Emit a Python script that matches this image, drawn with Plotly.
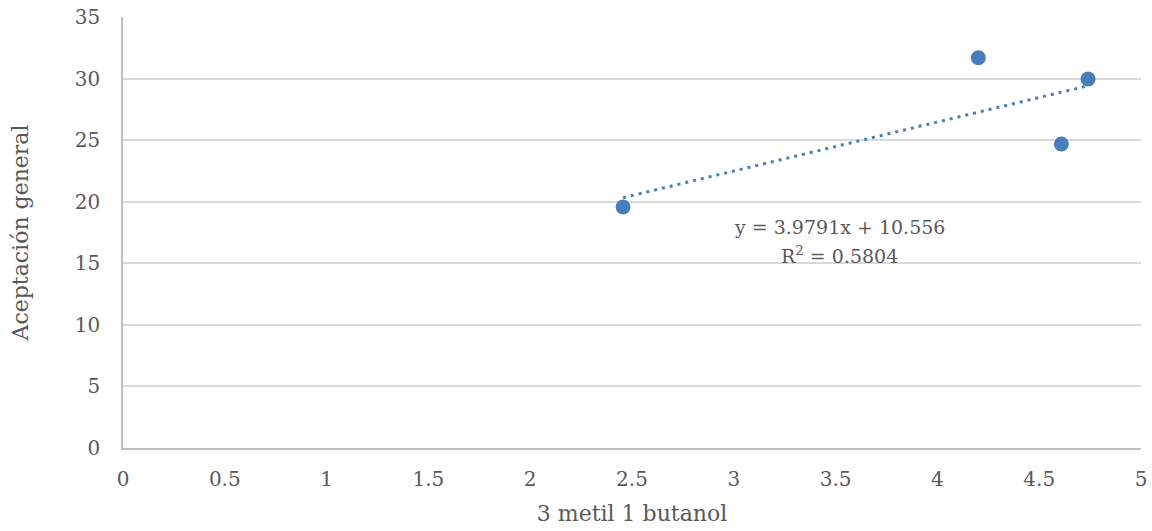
import plotly.graph_objects as go

x_vals = [2.456, 4.201, 4.609, 4.740]
y_vals = [19.57, 31.69, 24.69, 29.97]
slope = 3.9791
intercept = 10.556
r2 = 0.5804

x_ticks = [0, 0.5, 1, 1.5, 2, 2.5, 3, 3.5, 4, 4.5, 5]
x_tick_labels = ["0", "0.5", "1", "1.5", "2", "2.5", "3", "3.5", "4", "4.5", "5"]
y_ticks = [0, 5, 10, 15, 20, 25, 30, 35]

FONT = "DejaVu Serif"
TXT = "#595959"
COL = "#4A7EBB"

tx = [min(x_vals), max(x_vals)]
ty = [slope * v + intercept for v in tx]

fig = go.Figure()
fig.add_trace(go.Scatter(x=tx, y=ty, mode="lines",
                         line=dict(color=COL, width=3, dash="3px,5px"),
                         hoverinfo="skip", showlegend=False))
fig.add_trace(go.Scatter(x=x_vals, y=y_vals, mode="markers",
                         marker=dict(color=COL, size=15),
                         showlegend=False))

fig.add_annotation(x=3.52, y=17.95, xref="x", yref="y",
                   text=f"y = {slope}x + {intercept}",
                   showarrow=False, align="center",
                   font=dict(family=FONT, size=19, color=TXT))
fig.add_annotation(x=3.52, y=15.7, xref="x", yref="y",
                   text=f"R<sup>2</sup> = {r2}",
                   showarrow=False, align="center",
                   font=dict(family=FONT, size=19, color=TXT))

fig.update_layout(
    width=1152, height=531,
    margin=dict(l=123, r=11, t=17, b=83),
    paper_bgcolor="white", plot_bgcolor="white",
    font=dict(family=FONT, size=20, color=TXT),
    xaxis=dict(range=[0, 5], tickvals=x_ticks, ticktext=x_tick_labels,
               automargin=False,
               showgrid=False, zeroline=False, showline=True,
               linecolor="#BFBFBF", linewidth=1.5, ticks="",
               ticklabelstandoff=12,
               title=dict(text="3 metil 1 butanol", font=dict(size=22, family=FONT, color=TXT), standoff=16),
               tickfont=dict(size=20, family=FONT, color=TXT)),
    yaxis=dict(range=[0, 35], tickvals=y_ticks,
               automargin=False,
               showgrid=True, gridcolor="#D9D9D9", gridwidth=1.5,
               zeroline=False, showline=True, linecolor="#BFBFBF", linewidth=1.5,
               ticks="",
               ticklabelstandoff=17,
               title=dict(text="Aceptación general", font=dict(size=22, family=FONT, color=TXT), standoff=40),
               tickfont=dict(size=20, family=FONT, color=TXT)),
)

fig.write_html("out.html")
